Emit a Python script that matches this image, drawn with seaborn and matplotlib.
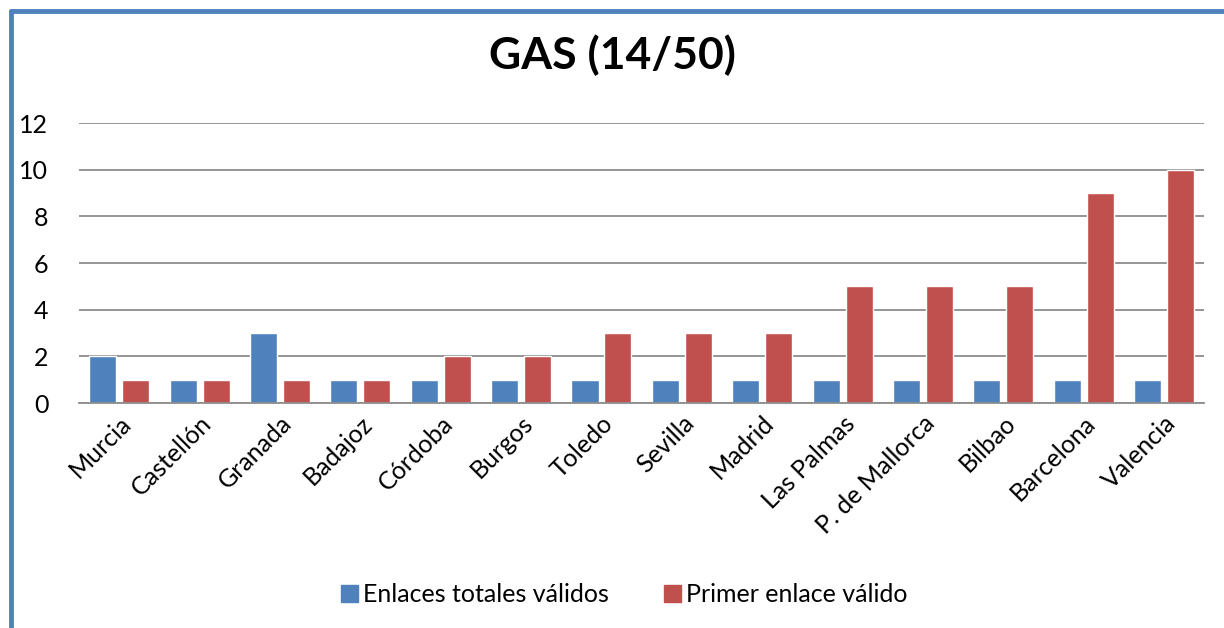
import pandas as pd
import matplotlib.pyplot as plt
import seaborn as sns
from matplotlib.lines import Line2D

# Data
ciudades = ['Murcia', 'Castellón', 'Granada', 'Badajoz', 'Córdoba', 'Burgos', 'Toledo',
            'Sevilla', 'Madrid', 'Las Palmas', 'P. de Mallorca', 'Bilbao', 'Barcelona', 'Valencia']
enlaces_totales = [2, 1, 3, 1, 1, 1, 1, 1, 1, 1, 1, 1, 1, 1]
primer_enlace = [1, 1, 1, 1, 2, 2, 3, 3, 3, 5, 5, 5, 9, 10]
series = ['Enlaces totales válidos', 'Primer enlace válido']

df = pd.DataFrame({
    'ciudad': ciudades * 2,
    'valor': enlaces_totales + primer_enlace,
    'serie': [series[0]] * len(ciudades) + [series[1]] * len(ciudades),
})

sns.set_style('white')
plt.rcParams['font.family'] = ['Lato', 'DejaVu Sans']
plt.rcParams['text.color'] = 'black'
plt.rcParams['xtick.color'] = 'black'
plt.rcParams['ytick.color'] = 'black'

fig = plt.figure(figsize=(12.24, 6.28), dpi=100)
ax = fig.add_axes([0.0645, 0.358, 0.9195, 0.446])

sns.barplot(data=df, x='ciudad', y='valor', hue='serie', order=ciudades,
            palette=['#4F81BD', '#C0504D'], width=0.82, gap=0.18,
            saturation=1, ax=ax, legend=False)

ax.set_ylim(0, 12)
ax.set_yticks(range(0, 13, 2))
ax.yaxis.grid(True, color='#8c8c8c', linewidth=1.3)
ax.set_axisbelow(True)
for s in ['left', 'right', 'top']:
    ax.spines[s].set_visible(False)
ax.spines['bottom'].set_color('#8c8c8c')
ax.spines['bottom'].set_linewidth(1.3)
ax.set_xlabel('')
ax.set_ylabel('')
ax.tick_params(axis='y', labelsize=18, length=0, pad=22, labelcolor='black')
ax.tick_params(axis='x', labelsize=18, length=0, pad=6, labelcolor='black')
plt.setp(ax.get_xticklabels(), rotation=45, ha='right', rotation_mode='anchor')

fig.suptitle('GAS (14/50)', fontsize=32, fontweight='bold', y=0.945, color='black')

handles = [plt.Rectangle((0, 0), 1, 1, color=c) for c in ['#4F81BD', '#C0504D']]
fig.legend(handles, series, loc='center', bbox_to_anchor=(0.51, 0.053), ncol=2,
           frameon=False, fontsize=18, handlelength=0.7, handleheight=0.7,
           handletextpad=0.2, columnspacing=2.2, labelcolor='black')

# blue frame visible on top and left edges
fig.add_artist(Line2D([0.009, 0.009], [0, 0.982], color='#4F81BD', linewidth=3.5,
                      transform=fig.transFigure))
fig.add_artist(Line2D([0.009, 1], [0.982, 0.982], color='#4F81BD', linewidth=3.5,
                      transform=fig.transFigure))

plt.savefig('out.png', dpi=100)
